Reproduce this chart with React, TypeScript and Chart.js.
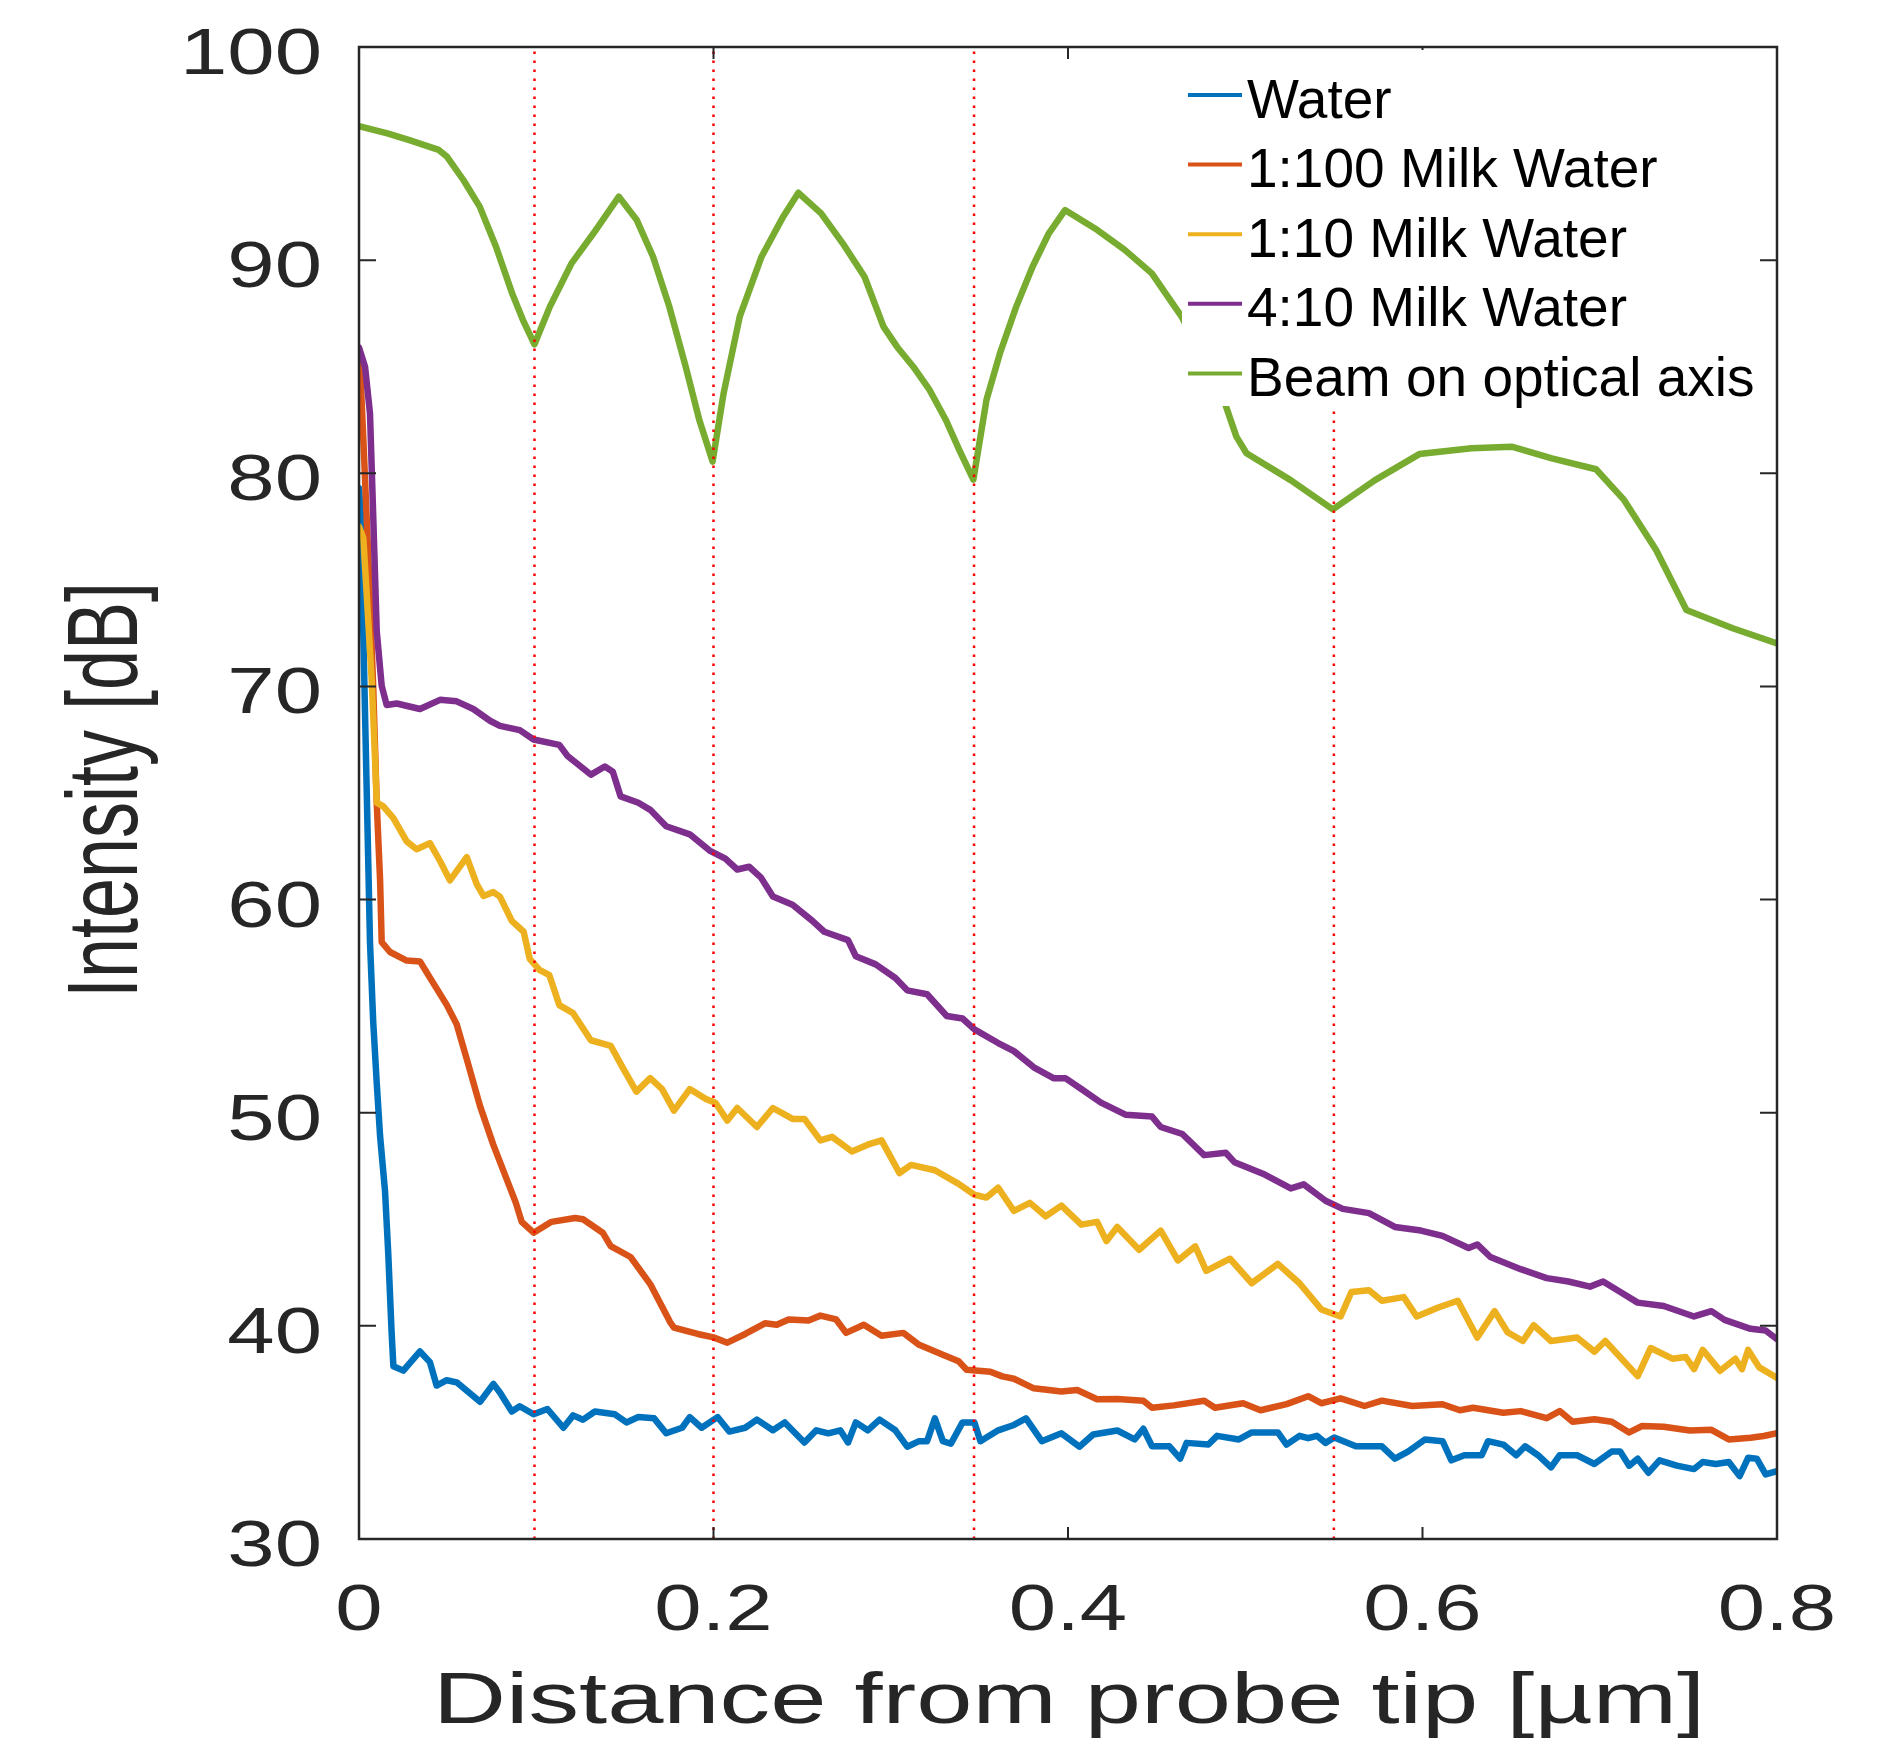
import React, { useEffect, useRef } from 'react';
import { Chart, registerables } from 'chart.js';

Chart.register(...registerables);

// ---------- axis ticks ----------
const xTicks = [0, 0.2, 0.4, 0.6, 0.8];
const xTickLabels = ['0', '0.2', '0.4', '0.6', '0.8'];
const yTicks = [30, 40, 50, 60, 70, 80, 90, 100];
const yTickLabels = ['30', '40', '50', '60', '70', '80', '90', '100'];
const xTitle = 'Distance from probe tip [µm]';
const yTitle = 'Intensity [dB]';

// ---------- series ----------
const seriesLabels = ['Water', '1:100 Milk Water', '1:10 Milk Water', '4:10 Milk Water', 'Beam on optical axis'];
const seriesColors = ['#0072BD', '#D95319', '#EDB120', '#7E2F8E', '#77AC30'];

// vertical red dotted marker positions
const markerX = [0.099, 0.2, 0.347, 0.55];

const waterX = [0, 0.0012, 0.0018, 0.0024, 0.0043, 0.0062, 0.008, 0.01, 0.0119, 0.0147, 0.0165, 0.0184, 0.0194, 0.025, 0.0344, 0.04, 0.0438, 0.0495, 0.0551, 0.0683, 0.0758,
  0.0795, 0.0862, 0.0907, 0.0985, 0.1063, 0.1153, 0.1208, 0.1264, 0.1331, 0.1444, 0.1509, 0.1576, 0.1665, 0.1733, 0.1823, 0.1866, 0.1933, 0.2023, 0.2089, 0.2179, 0.2245, 0.2335, 0.2402, 0.2513, 0.258, 0.2648, 0.2715, 0.2759, 0.2803, 0.287, 0.2937, 0.3026, 0.3093, 0.316, 0.3205, 0.3249, 0.3294, 0.3339, 0.3405, 0.3472, 0.3506, 0.3606, 0.3695, 0.3763, 0.3852, 0.3963, 0.4064, 0.4142,
  0.4278, 0.4376, 0.4425, 0.4474, 0.4572, 0.4633, 0.4669, 0.4792, 0.4841, 0.4964, 0.5037, 0.5184, 0.5233, 0.5306, 0.5355, 0.5404, 0.5453, 0.5502, 0.5624, 0.5771, 0.5844, 0.5918, 0.6015, 0.6113, 0.6163, 0.6236, 0.6334, 0.637, 0.6456, 0.6529, 0.6579, 0.6652, 0.6725, 0.6774, 0.6872, 0.697, 0.7067, 0.7116, 0.7166, 0.7214, 0.7275, 0.7337, 0.7435, 0.7532, 0.7581, 0.7655, 0.7728, 0.7789, 0.7837, 0.7886, 0.7936, 0.8];
const waterY = [79.3, 78.0, 75.5, 72.6, 65.3, 58.0, 54.3, 51.4, 48.9, 46.3, 43.4, 39.7, 38.1, 37.9, 38.8, 38.3, 37.2, 37.45, 37.35, 36.44, 37.28,
  36.87, 35.98, 36.23, 35.85, 36.1, 35.22, 35.8, 35.6, 35.98, 35.85, 35.47, 35.72, 35.66, 34.96, 35.22, 35.72, 35.22, 35.72, 35.04, 35.22, 35.6, 35.1, 35.47, 34.53, 35.1, 34.96, 35.1, 34.53, 35.47, 35.1, 35.6, 35.1, 34.33, 34.59, 34.59, 35.66, 34.59, 34.47, 35.47, 35.47, 34.59, 35.1, 35.35, 35.66, 34.59, 34.96, 34.33, 34.9,
  35.09, 34.67, 35.17, 34.35, 34.35, 33.77, 34.51, 34.43, 34.84, 34.67, 35.0, 35.0, 34.43, 34.84, 34.73, 34.84, 34.51, 34.76, 34.35, 34.35, 33.77, 34.1, 34.67, 34.59, 33.69, 33.93, 33.93, 34.59, 34.43, 33.93, 34.35, 33.93, 33.36, 33.93, 33.93, 33.52, 34.1, 34.1, 33.44, 33.77, 33.11, 33.69, 33.44, 33.28, 33.61, 33.52, 33.61, 32.95, 33.81, 33.77, 33.03, 33.19];

const milk100X = [0, 0.0006, 0.0024, 0.0052, 0.008, 0.01, 0.0119, 0.0128, 0.0175, 0.0269, 0.0344, 0.04, 0.0495, 0.0551, 0.0608, 0.0683, 0.0758,
  0.0885, 0.0918, 0.0985, 0.1086, 0.1219, 0.1264, 0.1375, 0.142, 0.1532, 0.1643, 0.1755, 0.1777, 0.1911, 0.2, 0.2078, 0.2179, 0.229, 0.2357, 0.2424, 0.2536, 0.2603, 0.2692, 0.2748, 0.2848, 0.2948, 0.3071, 0.316, 0.3294, 0.3383, 0.3428, 0.3562, 0.3629, 0.3695, 0.3807, 0.3963, 0.4052, 0.4164,
  0.4278, 0.4425, 0.4474, 0.4597, 0.4768, 0.4829, 0.4988, 0.5086, 0.5233, 0.5355, 0.5429, 0.5538, 0.5673, 0.5771, 0.5942, 0.6113, 0.6211, 0.6285, 0.6456, 0.6554, 0.6701, 0.6774, 0.6847, 0.697, 0.7068, 0.7166, 0.7239, 0.7361, 0.7508, 0.763, 0.7728, 0.7851, 0.7925, 0.8];
const milk100Y = [85.7, 85.0, 81.7, 76.2, 70.0, 64.55, 60.9, 58.0, 57.54, 57.14, 57.1, 56.34, 55.06, 54.15, 52.51, 50.31, 48.49,
  45.77, 44.88, 44.37, 44.88, 45.06, 45.0, 44.37, 43.74, 43.23, 41.96, 40.18, 39.92, 39.62, 39.46, 39.21, 39.62, 40.12, 40.05, 40.3, 40.25, 40.48, 40.3, 39.67, 40.05, 39.54, 39.67, 39.11, 38.65, 38.34, 37.94, 37.85, 37.63, 37.52, 37.07, 36.92, 36.99, 36.56,
  36.57, 36.49, 36.16, 36.27, 36.49, 36.16, 36.37, 36.04, 36.33, 36.7, 36.37, 36.6, 36.24, 36.49, 36.24, 36.32, 36.04, 36.16, 35.92, 36.0, 35.67, 36.0, 35.5, 35.62, 35.5, 35.0, 35.3, 35.27, 35.09, 35.12, 34.67, 34.75, 34.83, 34.96];

const milk10X = [0, 0.0024, 0.0043, 0.0071, 0.009, 0.01, 0.0137, 0.0194, 0.0269, 0.0325, 0.04, 0.0457, 0.0513, 0.0608, 0.0664, 0.0702, 0.0758,
  0.0795, 0.0862, 0.0929, 0.0963, 0.1018, 0.1074, 0.113, 0.1208, 0.1308, 0.142, 0.1487, 0.1565, 0.1643, 0.171, 0.1777, 0.1866, 0.1955, 0.2011, 0.2078, 0.2134, 0.2245, 0.2335, 0.2446, 0.2513, 0.2603, 0.2669, 0.2781, 0.287, 0.2948, 0.3049, 0.3115, 0.3249, 0.3383, 0.3472, 0.354, 0.3606, 0.3695, 0.3785, 0.3874, 0.3963, 0.4075, 0.4164,
  0.4217, 0.4278, 0.4401, 0.4523, 0.462, 0.4718, 0.478, 0.4914, 0.5037, 0.5184, 0.5306, 0.5429, 0.5538, 0.5599, 0.5698, 0.5771, 0.5894, 0.5967, 0.6089, 0.6199, 0.6309, 0.6407, 0.648, 0.6566, 0.6627, 0.6725, 0.6872, 0.697, 0.7031, 0.7214, 0.7287, 0.741, 0.7485, 0.7532, 0.7581, 0.7679, 0.7765, 0.7802, 0.7837, 0.79, 0.8];
const milk10Y = [77.5, 76.97, 74.41, 70.4, 66.74, 64.55, 64.37, 63.82, 62.73, 62.36, 62.65, 61.81, 60.9, 61.99, 60.72, 60.17, 60.35,
  60.14, 59.0, 58.49, 57.22, 56.7, 56.45, 55.05, 54.67, 53.4, 53.14, 52.13, 50.99, 51.62, 51.11, 50.1, 51.11, 50.65, 50.47, 49.63, 50.22, 49.33, 50.22, 49.71, 49.71, 48.7, 48.87, 48.18, 48.5, 48.7, 47.17, 47.55, 47.3, 46.66, 46.15, 46.02, 46.48, 45.39, 45.77, 45.14, 45.64, 44.75, 44.88,
  43.98, 44.64, 43.57, 44.47, 43.07, 43.73, 42.58, 43.15, 42.0, 42.91, 42.0, 40.77, 40.44, 41.59, 41.67, 41.18, 41.35, 40.44, 40.86, 41.18, 39.45, 40.69, 39.7, 39.29, 40.03, 39.29, 39.45, 38.79, 39.29, 37.64, 38.96, 38.46, 38.54, 37.97, 38.87, 37.89, 38.46, 37.97, 38.87, 38.05, 37.56];

const milk40X = [0, 0.0034, 0.0062, 0.008, 0.01, 0.0128, 0.0156, 0.0213, 0.0344, 0.0457, 0.0551, 0.0645, 0.0739,
  0.0795, 0.0907, 0.0985, 0.113, 0.1175, 0.1309, 0.1387, 0.1432, 0.1476, 0.1576, 0.1643, 0.1733, 0.1866, 0.1978, 0.2067, 0.2134, 0.2201, 0.2268, 0.2335, 0.2446, 0.2558, 0.2625, 0.2759, 0.2803, 0.2915, 0.3026, 0.3093, 0.3205, 0.3316, 0.3405, 0.3472, 0.3606, 0.3695, 0.3807, 0.3918, 0.3985, 0.4075, 0.4186,
  0.4327, 0.4474, 0.4523, 0.4645, 0.4768, 0.489, 0.4939, 0.511, 0.5257, 0.533, 0.5453, 0.555, 0.5698, 0.5844, 0.5991, 0.6113, 0.626, 0.6309, 0.6383, 0.6554, 0.6701, 0.6823, 0.6945, 0.7019, 0.7116, 0.7214, 0.7361, 0.7532, 0.763, 0.7704, 0.7851, 0.7936, 0.8];
const milk40Y = [85.9, 85.0, 82.81, 78.06, 72.6, 70.03, 69.13, 69.2, 68.94, 69.37, 69.3, 68.94, 68.39,
  68.15, 67.95, 67.51, 67.26, 66.75, 65.86, 66.24, 66.0, 64.84, 64.54, 64.21, 63.44, 63.06, 62.3, 61.92, 61.41, 61.54, 61.03, 60.14, 59.76, 59.0, 58.49, 58.1, 57.34, 56.96, 56.32, 55.74, 55.56, 54.54, 54.42, 53.91, 53.27, 52.89, 52.13, 51.62, 51.62, 51.11, 50.47,
  49.9, 49.82, 49.33, 49.0, 48.01, 48.12, 47.68, 47.1, 46.45, 46.64, 45.87, 45.49, 45.29, 44.64, 44.47, 44.22, 43.65, 43.82, 43.23, 42.66, 42.24, 42.08, 41.84, 42.08, 41.59, 41.09, 40.93, 40.44, 40.69, 40.28, 39.86, 39.78, 39.37];

const beamX = [0, 0.016, 0.028, 0.045, 0.0497, 0.0589, 0.0681, 0.0773, 0.0864, 0.0925, 0.099, 0.1077, 0.1199, 0.1323, 0.1466, 0.1567, 0.1659, 0.1751, 0.1843, 0.192, 0.1995, 0.2057, 0.2148, 0.2271, 0.2393, 0.2479, 0.2607, 0.2729, 0.2852, 0.2959, 0.3035, 0.3127, 0.3219, 0.3311, 0.3387, 0.3466, 0.354, 0.3616, 0.3708, 0.38, 0.3892, 0.3983, 0.4166, 0.432, 0.4473, 0.4564, 0.4641, 0.4882, 0.495, 0.5007, 0.5256, 0.5494, 0.5732, 0.5982, 0.6276, 0.6503, 0.673, 0.6979, 0.7137, 0.7318, 0.7489, 0.775, 0.8];
const beamY = [96.29, 95.95, 95.64, 95.17, 94.85, 93.76, 92.51, 90.63, 88.44, 87.19, 86.05, 87.82, 89.85, 91.26, 92.98, 91.88, 90.16, 87.81, 85.0, 82.5, 80.55, 83.75, 87.35, 90.16, 92.04, 93.16, 92.19, 90.79, 89.22, 86.88, 85.94, 85.0, 83.91, 82.5, 81.09, 79.7, 83.44, 85.63, 87.82, 89.69, 91.26, 92.35, 91.41, 90.48, 89.38, 88.28, 87.35, 83.36, 81.72, 80.94, 79.68, 78.31, 79.68, 80.9, 81.17, 81.25, 80.7, 80.19, 78.75, 76.4, 73.59, 72.73, 72.02];

const seriesX = [waterX, milk100X, milk10X, milk40X, beamX];
const seriesY = [waterY, milk100Y, milk10Y, milk40Y, beamY];

const FONT = '"Liberation Sans", Arial, Helvetica, sans-serif';
const AXIS_COLOR = '#262626';

const decorPlugin = {
  id: 'decor',
  beforeDraw(chart: any) {
    const ctx = chart.ctx;
    ctx.save();
    ctx.fillStyle = '#ffffff';
    ctx.fillRect(0, 0, chart.width, chart.height);
    ctx.restore();
  },
  afterDatasetsDraw(chart: any) {
    const ctx = chart.ctx as CanvasRenderingContext2D;
    const { left, right, top, bottom } = chart.chartArea;
    const xs = chart.scales.x;
    const ys = chart.scales.y;
    ctx.save();

    // axes box
    ctx.strokeStyle = AXIS_COLOR;
    ctx.lineWidth = 2.5;
    ctx.strokeRect(left, top, right - left, bottom - top);

    // inward tick marks on all four sides
    ctx.lineWidth = 2;
    ctx.beginPath();
    yTicks.forEach((v) => {
      const y = ys.getPixelForValue(v);
      ctx.moveTo(left, y); ctx.lineTo(left + 17, y);
      ctx.moveTo(right, y); ctx.lineTo(right - 17, y);
    });
    xTicks.forEach((v) => {
      const x = xs.getPixelForValue(v);
      ctx.moveTo(x, bottom); ctx.lineTo(x, bottom - 12);
      ctx.moveTo(x, top); ctx.lineTo(x, top + 12);
    });
    ctx.stroke();

    // tick labels (horizontally stretched like the reference)
    ctx.fillStyle = AXIS_COLOR;
    ctx.font = `64px ${FONT}`;
    ctx.textBaseline = 'alphabetic';
    const sx = 1.33;
    yTicks.forEach((v, i) => {
      const y = ys.getPixelForValue(v);
      ctx.save();
      ctx.translate(left - 37, y + 27);
      ctx.scale(sx, 1);
      ctx.textAlign = 'right';
      ctx.fillText(yTickLabels[i], 0, 0);
      ctx.restore();
    });
    xTicks.forEach((v, i) => {
      const x = xs.getPixelForValue(v);
      ctx.save();
      ctx.translate(x, bottom + 91);
      ctx.scale(sx, 1);
      ctx.textAlign = 'center';
      ctx.fillText(xTickLabels[i], 0, 0);
      ctx.restore();
    });

    // x axis title
    ctx.font = `72px ${FONT}`;
    const w = ctx.measureText(xTitle).width;
    const tsx = 1272 / w;
    ctx.save();
    ctx.translate((left + right) / 2 + 1, bottom + 184);
    ctx.scale(tsx, 1);
    ctx.textAlign = 'center';
    ctx.fillText(xTitle, 0, 0);
    ctx.restore();

    // y axis title (rotated)
    ctx.save();
    ctx.translate(137, 790);
    ctx.rotate(-Math.PI / 2);
    ctx.scale(1, 1.39);
    ctx.textAlign = 'center';
    ctx.fillText(yTitle, 0, 0);
    ctx.restore();

    // legend (white box, no border)
    ctx.fillStyle = '#ffffff';
    ctx.fillRect(1182, 50, 574, 356);
    const rowY0 = 95;
    const rowStep = 69.6;
    ctx.font = `55px ${FONT}`;
    ctx.textAlign = 'left';
    seriesLabels.forEach((lab, i) => {
      const y = rowY0 + i * rowStep;
      ctx.strokeStyle = seriesColors[i];
      ctx.lineWidth = 4;
      ctx.beginPath();
      ctx.moveTo(1188, y);
      ctx.lineTo(1242, y);
      ctx.stroke();
      ctx.fillStyle = '#000000';
      ctx.fillText(lab, 1247, y + 22.5);
    });

    ctx.restore();
  },
};

export default function App() {
  const canvasRef = useRef<HTMLCanvasElement | null>(null);

  useEffect(() => {
    document.body.style.margin = '0';
    document.body.style.overflow = 'hidden';
    const canvas = canvasRef.current;
    if (!canvas) return;

    const markerSets = markerX.map((mx) => ({
      label: 'marker',
      data: [{ x: mx, y: 30 }, { x: mx, y: 100 }],
      borderColor: '#FF0000',
      borderWidth: 2.5,
      borderDash: [2.5, 6.5],
      borderCapStyle: 'butt',
      pointRadius: 0,
      fill: false,
      order: 0,
    }));

    const lineSets = seriesLabels.map((lab, i) => ({
      label: lab,
      data: seriesX[i].map((x, j) => ({ x, y: seriesY[i][j] })),
      borderColor: seriesColors[i],
      backgroundColor: seriesColors[i],
      borderWidth: 6.5,
      pointRadius: 0,
      tension: 0,
      fill: false,
      borderJoinStyle: 'round',
      borderCapStyle: 'round',
      order: 5 - i,
    }));

    const chart = new Chart(canvas, {
      type: 'line',
      data: { datasets: [...lineSets, ...markerSets] as any },
      options: {
        animation: false,
        responsive: false,
        maintainAspectRatio: false,
        devicePixelRatio: 1,
        layout: { padding: { left: 359, right: 126, top: 47, bottom: 206 } },
        plugins: { legend: { display: false }, tooltip: { enabled: false } },
        scales: {
          x: { type: 'linear', min: 0, max: 0.8, display: false },
          y: { type: 'linear', min: 30, max: 100, display: false },
        },
      },
      plugins: [decorPlugin],
    } as any);

    return () => chart.destroy();
  }, []);

  return (
    <div style={{ width: 1903, height: 1745 }}>
      <canvas ref={canvasRef} width={1903} height={1745} style={{ display: 'block', width: 1903, height: 1745 }} />
    </div>
  );
}
